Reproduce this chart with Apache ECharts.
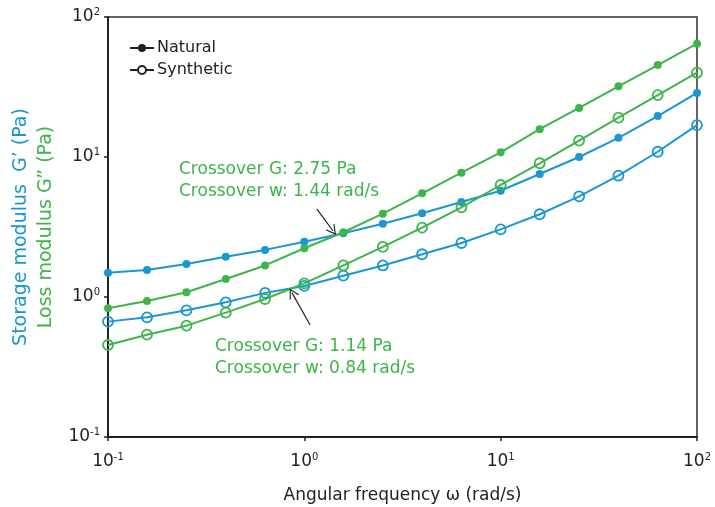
<!DOCTYPE html>
<html>
<head>
<meta charset="utf-8">
<script src="https://cdn.jsdelivr.net/npm/echarts@6/dist/echarts.min.js"></script>
<style>
  html, body { margin: 0; padding: 0; background: #fff; }
  #chart { width: 715px; height: 507px; }
</style>
</head>
<body>
<div id="chart"></div>
<script>
// angular frequency (rad/s)
const freq = [0.1, 0.158, 0.251, 0.398, 0.631, 1, 1.58, 2.51, 3.98, 6.31, 10, 15.8, 25.1, 39.8, 63.1, 100];
// Natural sample
const naturalG1 = [1.49, 1.56, 1.72, 1.94, 2.17, 2.48, 2.85, 3.34, 3.96, 4.77, 5.74, 7.56, 10.0, 13.7, 19.6, 28.7];
const naturalG2 = [0.83, 0.936, 1.08, 1.345, 1.68, 2.23, 2.9, 3.94, 5.5, 7.72, 10.8, 15.8, 22.4, 32.0, 45.4, 64.5];
// Synthetic sample
const synthG1 = [0.667, 0.716, 0.803, 0.916, 1.07, 1.2, 1.42, 1.68, 2.02, 2.43, 3.04, 3.9, 5.24, 7.35, 10.9, 16.9];
const synthG2 = [0.454, 0.538, 0.624, 0.773, 0.968, 1.25, 1.68, 2.28, 3.13, 4.37, 6.31, 9.02, 13.1, 19.1, 27.7, 40.0];
// tick labels (powers of ten)
const tickExps = ["-1", "0", "1", "2"];

const blue = "#1A96D4";
const green = "#3DB54A";
const fontFamily = "DejaVu Sans";

let chart = echarts.init(document.getElementById("chart"));

function pairs(ys) {
  return freq.map((x, i) => [x, ys[i]]);
}

function powLabel(v) {
  let e = String(Math.round(Math.log10(v)));
  if (tickExps.indexOf(e) < 0) return "";
  return "{b|10}{s|" + e + "}";
}

const powRich = {
  b: { fontSize: 17, color: "#222", fontFamily: fontFamily },
  s: { fontSize: 10, color: "#222", fontFamily: fontFamily, verticalAlign: "top", padding: [0, 0, 9, 0] },
};

function lineSeries(name, ys, color, filled) {
  return {
    name: name,
    type: "line",
    data: pairs(ys),
    symbol: "circle",
    symbolSize: filled ? 8 : 10,
    showSymbol: true,
    lineStyle: { color: color, width: 2 },
    itemStyle: {
      color: filled ? color : "rgba(255,255,255,0)",
      borderColor: color,
      borderWidth: filled ? 0 : 1.8,
    },
    emphasis: { disabled: true },
    z: 3,
  };
}

// open chevron arrow head
const chevron = "path://M0,0 L5,10 L3.8,10 L0,2.4 L-3.8,10 L-5,10 Z";

// arrows pointing at crossover points
let naturalG2Series = lineSeries("Natural G''", naturalG2, green, true);
naturalG2Series.markLine = {
  silent: true,
  symbol: ["none", chevron],
  symbolSize: [11, 10],
  lineStyle: { color: "#222", width: 1.2, type: "solid" },
  label: { show: false },
  data: [
    [{ coord: [1.16, 4.25] }, { coord: [1.40, 2.96] }],
    [{ coord: [1.07, 0.631] }, { coord: [0.866, 1.07] }],
  ],
};

chart.setOption({
  animation: false,
  textStyle: { fontFamily: fontFamily },
  grid: {
    left: 108,
    right: 18,
    top: 17,
    bottom: 70,
    outerBoundsMode: "none",
    containLabel: false,
    show: true,
    borderColor: "#333",
    borderWidth: 1.5,
  },
  legend: {
    data: ["Natural", "Synthetic"],
    orient: "vertical",
    left: 124,
    top: 35,
    itemWidth: 24,
    itemHeight: 10,
    itemGap: 6,
    textStyle: { fontSize: 16, color: "#222", fontFamily: fontFamily, padding: [0, 0, 0, -2] },
  },
  xAxis: {
    type: "log",
    logBase: 10,
    min: 0.1,
    max: 100,
    name: "Angular frequency ω (rad/s)",
    nameLocation: "middle",
    nameGap: 50,
    nameTextStyle: { fontSize: 17, color: "#222", fontFamily: fontFamily },
    axisLine: { lineStyle: { color: "#222", width: 2 } },
    axisTick: { show: true, inside: false, length: 4, lineStyle: { color: "#222", width: 1.5 } },
    minorTick: { show: false },
    splitLine: { show: false },
    axisLabel: { margin: 15, formatter: powLabel, rich: powRich },
  },
  yAxis: {
    type: "log",
    logBase: 10,
    min: 0.1,
    max: 100,
    name: "{b|Storage modulus  G’ (Pa)}\n{g|Loss modulus G” (Pa)}",
    nameLocation: "middle",
    nameGap: 49,
    nameTextStyle: {
      rich: {
        b: { fontSize: 19, color: blue, fontFamily: fontFamily, lineHeight: 25 },
        g: { fontSize: 19, color: green, fontFamily: fontFamily, lineHeight: 25 },
      },
    },
    axisLine: { lineStyle: { color: "#222", width: 2 } },
    axisTick: { show: true, inside: false, length: 4, lineStyle: { color: "#222", width: 1.5 } },
    minorTick: { show: false },
    splitLine: { show: false },
    axisLabel: { margin: 8, formatter: powLabel, rich: powRich },
  },
  graphic: [
    { type: "text", left: 179, top: 159, style: { text: "Crossover G: 2.75 Pa\nCrossover w: 1.44 rad/s", fill: green, font: "17px " + fontFamily, lineHeight: 22 } },
    { type: "text", left: 215, top: 336, style: { text: "Crossover G: 1.14 Pa\nCrossover w: 0.84 rad/s", fill: green, font: "17px " + fontFamily, lineHeight: 22 } },
  ],
  series: [
    { name: "Natural", type: "line", data: [], symbol: "circle", symbolSize: 7, itemStyle: { color: "#222" }, lineStyle: { color: "#222", width: 2 } },
    { name: "Synthetic", type: "line", data: [], symbol: "emptyCircle", symbolSize: 8, itemStyle: { color: "#222", borderWidth: 1.5 }, lineStyle: { color: "#222", width: 2 } },
    lineSeries("Natural G'", naturalG1, blue, true),
    naturalG2Series,
    lineSeries("Synthetic G'", synthG1, blue, false),
    lineSeries("Synthetic G''", synthG2, green, false),
  ],
});

window.addEventListener("resize", () => {
  chart.resize();
});
</script>
</body>
</html>
